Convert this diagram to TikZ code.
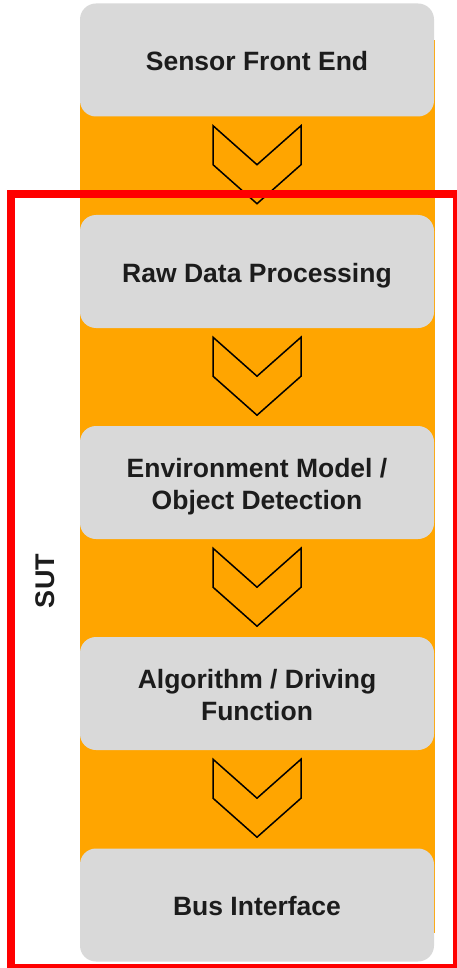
\documentclass[tikz,border=0pt]{standalone}
\usepackage{fontspec}
\setmainfont{Liberation Sans}
% one label line: glyph extents hidden, fixed height so every line sits alike
\newcommand\stageline[1]{\smash{#1}\rule{0pt}{21.5pt}}
\begin{document}
\begin{tikzpicture}[x=1pt,y=-1pt,
  stage/.style={fill=stagegray, rounded corners=16pt, minimum width=354pt,
    minimum height=113pt, inner sep=0pt, align=center, text=labeltext,
    font=\fontsize{26.5}{31.5}\selectfont\bfseries},
  chev/.style={draw=black, line width=1.5pt, line join=miter},
  sutframe/.style={draw=sutred, line width=8pt}]
\definecolor{band}{HTML}{FFA500}
\definecolor{stagegray}{HTML}{D9D9D9}
\definecolor{sutred}{HTML}{FF0000}
\definecolor{labeltext}{HTML}{1C1C1C}
\clip (0,0) rectangle (457,968);
\fill[white] (0,0) rectangle (457,968);
% orange spine behind the stages
\fill[band] (80,40) rectangle (435,933);
% processing stages
\node[stage] (s1) at (257,60)    {\stageline{Sensor Front End}};
\node[stage] (s2) at (257,271.5) {\stageline{Raw Data Processing}};
\node[stage] (s3) at (257,482.5) {\stageline{Environment Model /}\\\stageline{Object Detection}};
\node[stage] (s4) at (257,693.5) {\stageline{Algorithm / Driving}\\\stageline{Function}};
\node[stage] (s5) at (257,905)   {\stageline{Bus Interface}};
% chevrons between consecutive stages
\foreach \a/\b in {s1/s2,s2/s3,s3/s4,s4/s5}{
  \path (\a.south) ++(0,9) coordinate (t);
  \draw[chev] (t) ++(-44,0) -- ++(44,39) -- ++(44,-39) -- ++(0,39)
     -- ++(-44,39) -- ++(-44,-39) -- cycle;
}
% system-under-test frame
\draw[sutframe] (11,194) rectangle (457,968);
\node[rotate=90, text=labeltext, font=\fontsize{27}{30}\selectfont\bfseries]
  (sut) at (45,581) {SUT};
\end{tikzpicture}
\end{document}
